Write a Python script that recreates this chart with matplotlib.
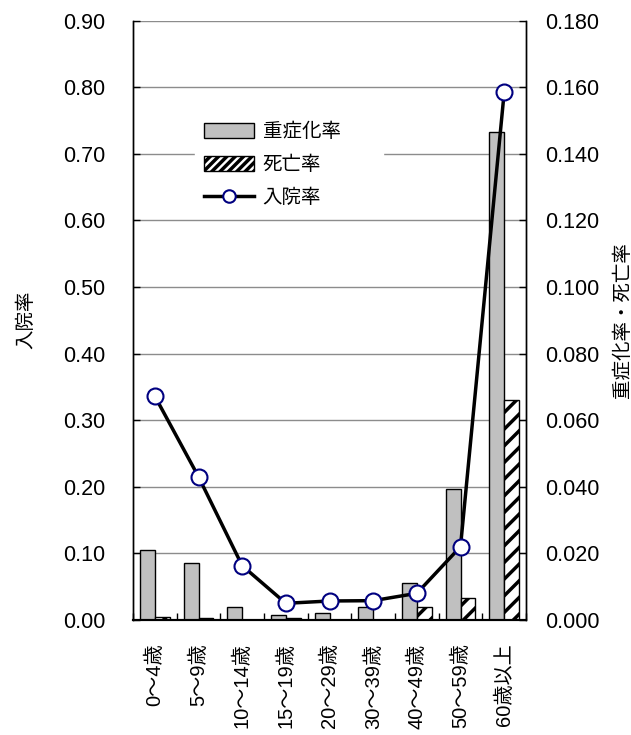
import matplotlib
matplotlib.use("Agg")
import matplotlib.pyplot as plt
import numpy as np
from matplotlib.lines import Line2D
from matplotlib.patches import Patch

plt.rcParams['font.family'] = ['Liberation Sans', 'Noto Sans CJK JP', 'DejaVu Sans']
plt.rcParams['hatch.linewidth'] = 2.5

categories = ["0～4歳", "5～9歳", "10～14歳", "15～19歳", "20～29歳",
              "30～39歳", "40～49歳", "50～59歳", "60歳以上"]
hospitalization = [0.336, 0.215, 0.0815, 0.025, 0.0285, 0.029, 0.040, 0.110, 0.792]
severe = [0.021, 0.0172, 0.0038, 0.0016, 0.0022, 0.0038, 0.0112, 0.0392, 0.1465]
death = [0.001, 0.0005, 0.0, 0.0005, 0.0, 0.0, 0.0038, 0.0066, 0.066]

left_ticks = [0.0, 0.1, 0.2, 0.3, 0.4, 0.5, 0.6, 0.7, 0.8, 0.9]
right_ticks = [0.0, 0.02, 0.04, 0.06, 0.08, 0.10, 0.12, 0.14, 0.16, 0.18]

fig = plt.figure(figsize=(6.31, 7.35), dpi=100)
ax = fig.add_axes([0.2108, 0.1565, 0.6228, 0.8156])
ax2 = ax.twinx()

x = np.arange(len(categories))
w = 0.34

# bars on the right axis (rates of severe cases and deaths)
ax2.bar(x - w / 2, severe, width=w, color='#c0c0c0', edgecolor='black',
        linewidth=1.0, zorder=2)
ax2.bar(x + w / 2, death, width=w, color='white', edgecolor='black',
        hatch='//', linewidth=1.0, zorder=2)

# hospitalization line on the left axis, drawn on top
ax.set_zorder(ax2.get_zorder() + 1)
ax.patch.set_visible(False)
ax.plot(x, hospitalization, color='black', lw=2.5, marker='o', ms=11.5,
        mfc='white', mec='#000080', mew=1.5, zorder=5, clip_on=False)

ax.set_xlim(-0.5, len(categories) - 0.5)
ax.set_ylim(0, 0.9)
ax2.set_ylim(0, 0.18)

ax.set_yticks(left_ticks)
ax.set_yticklabels([f"{v:.2f}" for v in left_ticks], fontsize=15.5)
ax2.set_yticks(right_ticks)
ax2.set_yticklabels([f"{v:.3f}" for v in right_ticks], fontsize=15.5)

for v in left_ticks[1:]:
    ax2.axhline(v / 5, color='#8c8c8c', lw=1.0, zorder=0)

ax.set_xticks(x)
ax.set_xticklabels(categories, rotation=90, fontsize=14.5)
ax.tick_params(axis='x', length=0, pad=17)
ax.set_xticks(np.arange(-0.5, len(categories)), minor=True)
ax.tick_params(axis='x', which='minor', direction='in', length=5, width=1)
ax.tick_params(axis='y', direction='in', length=5, width=1, pad=20)
ax2.tick_params(axis='y', direction='in', length=5, width=1, pad=14)

for a in (ax, ax2):
    a.spines['top'].set_visible(False)
    a.spines['left'].set_linewidth(1.0)
    a.spines['right'].set_linewidth(1.0)
    a.spines['bottom'].set_linewidth(1.5)

ax.set_ylabel("入院率", fontsize=14, labelpad=20)
ax2.set_ylabel("重症化率・死亡率", fontsize=14, labelpad=10)

handles = [
    Patch(facecolor='#c0c0c0', edgecolor='black', linewidth=1.0),
    Patch(facecolor='white', edgecolor='black', hatch='////', linewidth=1.0),
    Line2D([0], [0], color='black', lw=2.5, marker='o', ms=9,
           mfc='white', mec='#000080', mew=1.5),
]
labels = ["重症化率", "死亡率", "入院率"]
leg = ax.legend(handles, labels, loc='upper left',
                bbox_to_anchor=(0.132, 0.862, 0.53, 0.0), mode='expand',
                frameon=True, fontsize=14, handlelength=2.55, handleheight=0.8,
                labelspacing=0.75, borderpad=0.5, handletextpad=0.45)
leg.get_frame().set_facecolor('white')
leg.get_frame().set_edgecolor('white')
leg.get_frame().set_alpha(1.0)

fig.savefig("out.png", dpi=100)
